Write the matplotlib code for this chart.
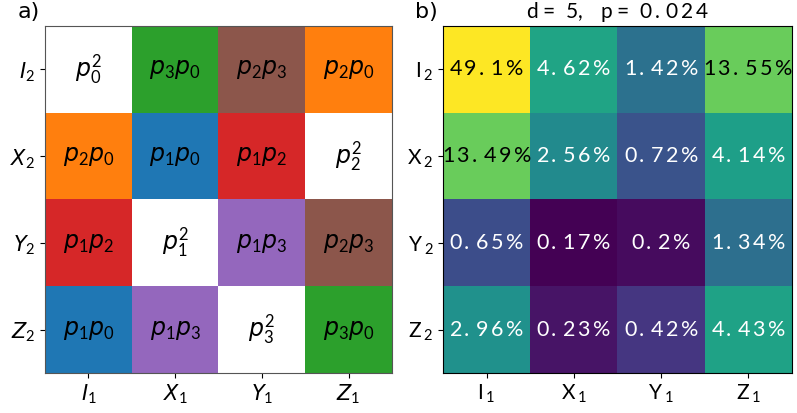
import numpy as np
import matplotlib.pyplot as plt
from matplotlib.colors import ListedColormap, LogNorm

plt.rcParams['mathtext.fontset'] = 'custom'
plt.rcParams['mathtext.rm'] = 'Lato'
plt.rcParams['mathtext.it'] = 'DejaVu Sans:italic'
plt.rcParams['mathtext.bf'] = 'Lato:bold'

x_labels = ['I', 'X', 'Y', 'Z']
y_labels = ['I', 'X', 'Y', 'Z']

# which probability product sits in each cell (a)
cell_text = [[r'$p_0^2$', r'$p_3p_0$', r'$p_2p_3$', r'$p_2p_0$'],
             [r'$p_2p_0$', r'$p_1p_0$', r'$p_1p_2$', r'$p_2^2$'],
             [r'$p_1p_2$', r'$p_1^2$', r'$p_1p_3$', r'$p_2p_3$'],
             [r'$p_1p_0$', r'$p_1p_3$', r'$p_3^2$', r'$p_3p_0$']]
# 0 = square term, 1..6 = cross terms
cell_kind = [[0, 3, 6, 2],
             [2, 1, 4, 0],
             [4, 0, 5, 6],
             [1, 5, 0, 3]]
kind_colors = ['white', 'tab:blue', 'tab:orange', 'tab:green',
               'tab:red', 'tab:purple', 'tab:brown']

# error rates in percent (b)
rates = [[49.1, 4.62, 1.42, 13.55],
         [13.49, 2.56, 0.72, 4.14],
         [0.65, 0.17, 0.2, 1.34],
         [2.96, 0.23, 0.42, 4.43]]
d = 5
p = 0.024


def spaced(s, gap=0.12):
    # loose letter spacing like the original font
    chars = [r'\%' if c == '%' else c for c in s]
    return (r'\hspace{%s}' % gap).join(chars)


fig = plt.figure(figsize=(7.97, 4.13), dpi=100)
ax1 = fig.add_axes([45/797, 40/413, 347/797, 347/413])
ax2 = fig.add_axes([443/797, 40/413, 349/797, 347/413])

# panel a
ax1.imshow(np.array(cell_kind), cmap=ListedColormap(kind_colors),
           vmin=-0.5, vmax=6.5, aspect='auto')
for i in range(4):
    for j in range(4):
        ax1.text(j, i, cell_text[i][j], ha='center', va='center', fontsize=17)
ax1.set_xticks(range(4))
ax1.set_yticks(range(4))
ax1.set_xticklabels([r'$%s_1$' % s for s in x_labels], fontsize=15)
ax1.set_yticklabels([r'$%s_2$' % s for s in y_labels], fontsize=15)
for s in ax1.spines.values():
    s.set_color('#555555')
ax1.text(-0.08, 1.04, 'a)', transform=ax1.transAxes, fontsize=16,
         ha='left', va='center')

# panel b
r = np.array(rates)
ax2.imshow(r, cmap='viridis', norm=LogNorm(vmin=r.min(), vmax=r.max()),
           aspect='auto')
for i in range(4):
    for j in range(4):
        col = 'black' if rates[i][j] > 10 else 'white'
        ax2.text(j, i, r'$\mathrm{%s}$' % spaced('%s%%' % rates[i][j]),
                 ha='center', va='center', fontsize=15.5, color=col)
ax2.set_xticks(range(4))
ax2.set_yticks(range(4))
ax2.set_xticklabels([r'$\mathrm{%s_{\hspace{0.2}1}}$' % s for s in x_labels],
                    fontsize=15)
ax2.set_yticklabels([r'$\mathrm{%s_{\hspace{0.2}2}}$' % s for s in y_labels],
                    fontsize=15)
title = (r'$\mathrm{d\hspace{0.05}=\ %s,\ \ p\hspace{0.05}=\ %s}$'
         % (spaced(str(d)), spaced(str(p))))
ax2.text(0.5, 1.04, title, transform=ax2.transAxes, fontsize=15,
         ha='center', va='center')
ax2.text(-0.08, 1.04, 'b)', transform=ax2.transAxes, fontsize=16,
         ha='left', va='center')

fig.savefig('out.png', dpi=100)
